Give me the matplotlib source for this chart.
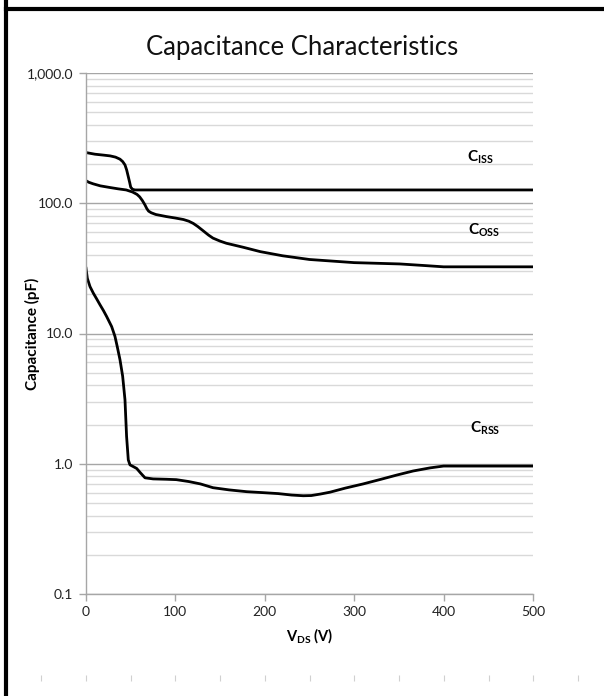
import numpy as np
import matplotlib
matplotlib.use("Agg")
from matplotlib import pyplot as plt
from matplotlib.ticker import FuncFormatter, LogLocator, NullFormatter

plt.rcParams['font.family'] = ['Lato', 'DejaVu Sans']
plt.rcParams['mathtext.fontset'] = 'custom'
plt.rcParams['mathtext.rm'] = 'Lato:bold'
plt.rcParams['mathtext.bf'] = 'Lato:bold'

# values (V_DS in volts, capacitance in pF)
ciss_v = [0, 10, 20, 27, 33, 38, 41, 43.6, 45.5, 47.3, 48.8, 50, 52, 54.8, 60, 100, 200, 300, 400, 500]
ciss_c = [245, 238, 234, 231, 226, 218, 209, 197, 180, 160, 145, 133, 128, 126.5, 126.5, 126.5, 126.5, 126.5, 126.5, 126.5]

coss_v = [0, 3, 8, 16, 27, 36, 45, 52, 57, 60, 63, 66, 68, 70, 73, 78, 90, 100, 109, 115, 120, 125, 131, 137, 142,
          150, 157, 176, 195, 220, 250, 300, 351, 380, 400, 500]
coss_c = [149, 145, 141, 136, 132, 129, 126.5, 122, 117, 112, 105, 97, 91, 87, 84.5, 82, 79, 77, 75, 72.8, 70.0, 66.3,
          61.5, 57.0, 54.0, 51.2, 49.3, 45.9, 42.5, 39.5, 37, 35, 34.2, 33.2, 32.5, 32.5]

crss_v = [0, 1.5, 4.5, 8.2, 12, 15.7, 19.5, 23.1, 28.7, 32.4, 35, 38, 41, 43.6, 45.4, 47.3, 49.2, 53, 56.7, 61, 66,
          75, 90, 101, 115, 128, 142, 160, 180, 198, 215, 230, 243, 252, 262, 273, 290, 310, 330, 348, 366, 385, 400, 500]
crss_c = [31.7, 26.5, 22.9, 20.4, 18.4, 16.6, 15.0, 13.5, 11.3, 9.5, 7.9, 6.3, 4.7, 3.1, 1.62, 1.07, 0.98, 0.95, 0.92,
          0.85, 0.78, 0.765, 0.76, 0.755, 0.73, 0.70, 0.655, 0.63, 0.61, 0.60, 0.59, 0.575, 0.568, 0.57, 0.585, 0.605,
          0.65, 0.70, 0.76, 0.82, 0.88, 0.93, 0.96, 0.96]

labels = ['C$_{\\mathrm{ISS}}$', 'C$_{\\mathrm{OSS}}$', 'C$_{\\mathrm{RSS}}$']
label_v = [441, 445, 447]
label_c = [226, 62, 1.89]

fig = plt.figure(figsize=(6.04, 6.96), dpi=100)
ax = fig.add_axes([86/604, 1-594/696, 447/604, 521/696])

ax.set_yscale('log')
ax.set_ylim(0.1, 1000)
ax.set_xlim(0, 500)

ax.yaxis.set_major_locator(LogLocator(base=10, numticks=10))
ax.yaxis.set_minor_locator(LogLocator(base=10, subs=np.arange(2, 10), numticks=10))
ax.yaxis.set_major_formatter(FuncFormatter(lambda v, p: f"{v:,.1f}"))
ax.yaxis.set_minor_formatter(NullFormatter())
ax.set_xticks(range(0, 501, 100))

ax.grid(True, which='minor', axis='y', color='#d9d9d9', lw=1.0)
ax.grid(True, which='major', axis='y', color='#a6a6a6', lw=1.0)
ax.set_axisbelow(True)

for s in ['top', 'right']:
    ax.spines[s].set_visible(False)
for s in ['left', 'bottom']:
    ax.spines[s].set_color('#a6a6a6')
    ax.spines[s].set_linewidth(1.0)
ax.tick_params(axis='both', which='major', color='#a6a6a6', length=5, width=1,
               labelsize=10, labelcolor='#222222', pad=4)
ax.tick_params(axis='y', which='minor', length=0)

ax.plot(ciss_v, ciss_c, color='black', lw=2.0, solid_joinstyle='round')
ax.plot(coss_v, coss_c, color='black', lw=2.0, solid_joinstyle='round')
ax.plot(crss_v, crss_c, color='black', lw=2.0, solid_joinstyle='round')

for t, v, c in zip(labels, label_v, label_c):
    ax.text(v, c, t, fontsize=11, fontweight='bold', ha='center', va='center')

ax.set_xlabel('V$_{\\mathrm{DS}}$ (V)', fontsize=10.5, fontweight='bold', labelpad=6)
ax.set_ylabel('Capacitance (pF)', fontsize=11, fontweight='bold')
ax.yaxis.set_label_coords((40-86)/447, 0.5)
fig.text(302/604, 1-47/696, 'Capacitance Characteristics', fontsize=18.5,
         ha='center', va='center', color='#111111')

# faint tick marks along the bottom
bx = fig.add_axes([41/604, 1-678/696, 537/604, 0.0001])
bx.set_xlim(-50, 550)
bx.set_xticks(range(-50, 551, 50))
bx.set_yticks([])
bx.tick_params(axis='x', length=4, color='#d0d0d0', labelbottom=False, direction='inout')
for s in bx.spines.values():
    s.set_visible(False)
bx.patch.set_alpha(0)

# frame lines
fig.add_artist(plt.Line2D([6/604, 6/604], [0, 1], transform=fig.transFigure, color='black', lw=3))
fig.add_artist(plt.Line2D([6/604, 1], [1-9/696, 1-9/696], transform=fig.transFigure, color='black', lw=3))

fig.savefig('out.png', dpi=100)
